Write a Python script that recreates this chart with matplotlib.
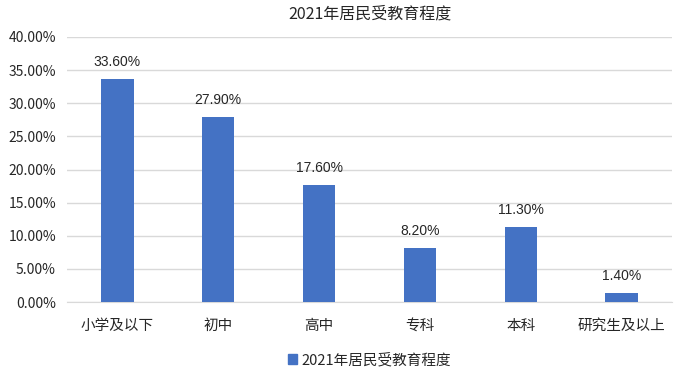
import matplotlib
matplotlib.use("Agg")
import matplotlib.pyplot as plt
from matplotlib.ticker import FuncFormatter
from matplotlib.patches import Patch

categories = ["小学及以下", "初中", "高中", "专科", "本科", "研究生及以上"]
values = [33.6, 27.9, 17.6, 8.2, 11.3, 1.4]
series_name = "2021年居民受教育程度"
yticks = [0, 5, 10, 15, 20, 25, 30, 35, 40]

plt.rcParams['font.family'] = ['Noto Sans CJK SC', 'DejaVu Sans']

fig = plt.figure(figsize=(6.76, 3.78), dpi=100)
ax = fig.add_axes([67/676, 1-302/378, 605/676, 265/378])

color = "#4472C4"
x = list(range(len(categories)))
bars = ax.bar(x, values, width=0.32, color=color, zorder=3)
for xi, v in zip(x, values):
    ax.text(xi, v + 1.5, f"{v:.2f}%", ha="center", va="bottom",
            fontsize=10, family="Liberation Sans", color="#262626")

ax.set_xlim(-0.5, len(categories) - 0.5)
ax.set_ylim(0, 40)
ax.set_yticks(yticks)
ax.yaxis.set_major_formatter(FuncFormatter(lambda v, p: f"{v:.2f}%"))
ax.grid(axis="y", color="#D9D9D9", linewidth=1, zorder=0)
for s in ["top", "right", "left"]:
    ax.spines[s].set_visible(False)
ax.spines["bottom"].set_color("#D9D9D9")
ax.tick_params(axis="both", length=0, labelsize=10.5, colors="#262626")
ax.tick_params(axis="y", pad=8, labelsize=10)
ax.tick_params(axis="x", pad=12)
ax.set_xticks(x)
ax.set_xticklabels(categories)

fig.text(0.5 * (67 + 672) / 676, 1 - 14/378, series_name, ha="center", va="center",
         fontsize=11.5, color="#262626")

handle = Patch(facecolor=color, edgecolor=color)
fig.legend([handle], [series_name], loc="center", bbox_to_anchor=((67 + 672) / 2 / 676, 1 - 360/378),
           frameon=False, fontsize=10.5, handlelength=0.6, handleheight=0.6, handletextpad=0.3,
           labelcolor="#262626")

fig.savefig("out.png", dpi=100)
